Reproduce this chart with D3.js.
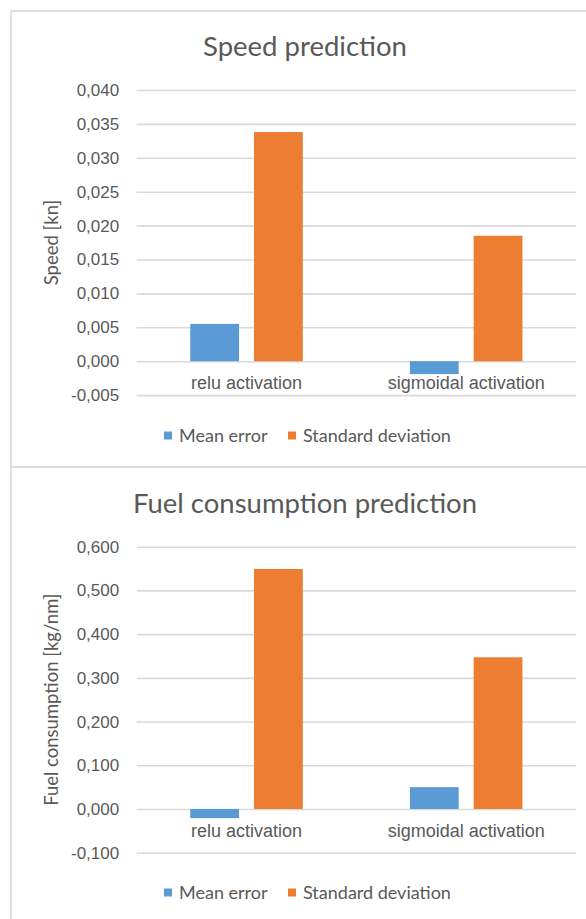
<!DOCTYPE html>
<html>
<head>
<meta charset="utf-8">
<script src="https://cdn.jsdelivr.net/npm/d3@7"></script>
<style>
  html, body { margin: 0; padding: 0; background: #fff; }
  svg { display: block; font-family: Lato, "Open Sans", sans-serif; }
</style>
</head>
<body>
<svg id="chart" width="586" height="919"></svg>
<script>
// ---- data ----
const categories = ["relu activation", "sigmoidal activation"];
const seriesNames = ["Mean error", "Standard deviation"];
const seriesColors = ["#5b9bd5", "#ed7d31"];

const speedMean = [0.0055, -0.0019];
const speedStd = [0.0338, 0.0185];
const speedTicks = [-0.005, 0.000, 0.005, 0.010, 0.015, 0.020, 0.025, 0.030, 0.035, 0.040];

const fuelMean = [-0.021, 0.050];
const fuelStd = [0.549, 0.347];
const fuelTicks = [-0.100, 0.000, 0.100, 0.200, 0.300, 0.400, 0.500, 0.600];

// ---- helpers ----
const loc = d3.formatLocale({decimal: ",", thousands: ".", grouping: [3], currency: ["", ""], minus: "-"});
const fmt = loc.format(".3f");
const svg = d3.select("#chart");
const textColor = "#595959";
const gridColor = "#d9d9d9";

function drawChart(cfg) {
  const g = svg.append("g");
  // frame
  g.append("rect")
    .attr("x", 11).attr("y", cfg.frameTop)
    .attr("width", 620).attr("height", cfg.frameHeight)
    .attr("fill", "#fff").attr("stroke", gridColor).attr("stroke-width", 1.6);

  // title
  g.append("text")
    .attr("x", 305).attr("y", cfg.titleY)
    .attr("text-anchor", "middle")
    .attr("font-size", 27.5).attr("fill", textColor)
    .text(cfg.title);

  const left = 136.7, right = 576;
  const y = d3.scaleLinear().domain(cfg.domain).range(cfg.range);
  const x0 = d3.scaleBand().domain(categories).range([left, right]).padding(0);
  const x1 = d3.scaleBand().domain(seriesNames).range([0, x0.bandwidth()])
    .paddingInner(0.235).paddingOuter(0.84);

  // grid
  const grid = g.append("g").attr("transform", `translate(${left},0)`)
    .call(d3.axisLeft(y).tickValues(cfg.ticks).tickSize(-(right - left)).tickFormat(""));
  grid.select(".domain").remove();
  grid.selectAll("line").attr("stroke", gridColor).attr("stroke-width", 1.6);

  // y labels
  const ya = g.append("g").attr("transform", `translate(${left},0)`)
    .call(d3.axisLeft(y).tickValues(cfg.ticks).tickSize(0).tickPadding(17.5).tickFormat(fmt));
  ya.select(".domain").remove();
  ya.selectAll("text").attr("font-size", 17).attr("fill", textColor).attr("font-family", null);

  // bars
  const data = categories.map((c, i) => ({cat: c, vals: [cfg.mean[i], cfg.std[i]]}));
  const grp = g.selectAll(".grp").data(data).join("g")
    .attr("transform", d => `translate(${x0(d.cat)},0)`);
  grp.selectAll("rect").data(d => d.vals.map((v, j) => ({name: seriesNames[j], v, j})))
    .join("rect")
    .attr("x", d => x1(d.name))
    .attr("width", x1.bandwidth())
    .attr("y", d => Math.min(y(d.v), y(0)))
    .attr("height", d => Math.abs(y(d.v) - y(0)))
    .attr("fill", d => seriesColors[d.j]);

  // category labels
  const xa = g.append("g").attr("transform", `translate(0,${y(0)})`)
    .call(d3.axisBottom(x0).tickSize(0).tickPadding(cfg.catPad));
  xa.select(".domain").remove();
  xa.selectAll("text").attr("font-size", 18).attr("fill", textColor).attr("font-family", null);

  // y title
  g.append("text")
    .attr("transform", `translate(${cfg.yTitleX},${(cfg.range[0] + cfg.range[1]) / 2}) rotate(-90)`)
    .attr("text-anchor", "middle")
    .attr("font-size", 18.5).attr("fill", textColor)
    .text(cfg.yTitle);

  // legend
  const legX = [164, 288];
  const lg = g.selectAll(".leg").data(seriesNames).join("g")
    .attr("transform", (d, i) => `translate(${legX[i]},${cfg.legendY})`);
  lg.append("rect").attr("x", 0).attr("y", -4.5).attr("width", 8).attr("height", 8)
    .attr("fill", (d, i) => seriesColors[i]);
  lg.append("text").attr("x", 15).attr("y", 0).attr("dy", "0.35em")
    .attr("font-size", 18).attr("fill", textColor).text(d => d);
}

drawChart({
  frameTop: 11, frameHeight: 456, title: "Speed prediction", titleY: 56,
  domain: [-0.005, 0.040], range: [395.1, 90], ticks: speedTicks,
  mean: speedMean, std: speedStd, catPad: 15, yTitle: "Speed [kn]", yTitleX: 58, legendY: 436
});
drawChart({
  frameTop: 467, frameHeight: 480, title: "Fuel consumption prediction", titleY: 513,
  domain: [-0.100, 0.600], range: [852.7, 546.7], ticks: fuelTicks,
  mean: fuelMean, std: fuelStd, catPad: 15, yTitle: "Fuel consumption [kg/nm]", yTitleX: 58, legendY: 893
});
</script>
</body>
</html>
